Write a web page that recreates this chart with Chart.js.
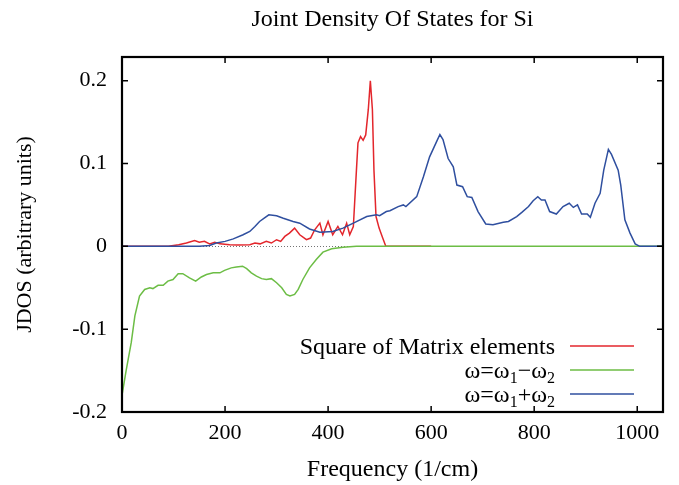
<!DOCTYPE html>
<html><head><meta charset="utf-8">
<script src="https://cdn.jsdelivr.net/npm/chart.js@4/dist/chart.umd.min.js"></script>
<style>html,body{margin:0;padding:0;background:#fff;}#wrap{width:679px;height:485px;}</style>
</head><body><div id="wrap"><canvas id="c" width="679" height="485"></canvas></div>
<script>
const titleText = 'Joint Density Of States for Si';
const xTitle = 'Frequency (1/cm)';
const yTitle = 'JDOS (arbitrary units)';
const xTickValues = [0, 200, 400, 600, 800, 1000];
const yTickValues = [-0.2, -0.1, 0, 0.1, 0.2];
const seriesLabels = ['Square of Matrix elements', 'ω=ω₁−ω₂', 'ω=ω₁+ω₂'];
const seriesColors = ['#e3262c', '#6cbd45', '#2f4f9f'];

const matrixFreq = [0, 90, 110, 125, 141, 150, 160, 170, 180, 190, 209, 225, 248, 258, 268, 280, 290, 300, 308, 316, 325, 335, 345, 358, 366, 374, 384, 390, 400, 409, 419, 428, 436, 442, 449, 455, 458, 463, 468, 473, 478, 482, 486, 489, 493, 499, 506, 512, 600];
const matrixSq = [0, 0, 0.002, 0.004, 0.007, 0.005, 0.006, 0.003, 0.005, 0.003, 0.002, 0.0015, 0.002, 0.004, 0.003, 0.006, 0.004, 0.008, 0.006, 0.012, 0.016, 0.022, 0.014, 0.008, 0.010, 0.020, 0.028, 0.014, 0.030, 0.014, 0.024, 0.014, 0.028, 0.014, 0.024, 0.092, 0.125, 0.1325, 0.128, 0.1345, 0.165, 0.200, 0.165, 0.092, 0.036, 0.022, 0.010, 0, 0];

const diffFreq = [0, 8, 18, 25, 34, 44, 54, 60, 70, 80, 89, 99, 109, 118, 131, 143, 154, 164, 177, 190, 199, 212, 222, 234, 242, 251, 261, 271, 280, 290, 300, 310, 319, 326, 335, 342, 351, 364, 377, 390, 407, 429, 455, 1050];
const diffJdos = [-0.18, -0.15, -0.116, -0.084, -0.060, -0.052, -0.050, -0.051, -0.047, -0.047, -0.042, -0.040, -0.033, -0.033, -0.038, -0.042, -0.037, -0.034, -0.032, -0.032, -0.029, -0.026, -0.025, -0.024, -0.027, -0.032, -0.036, -0.039, -0.040, -0.039, -0.044, -0.050, -0.058, -0.060, -0.058, -0.052, -0.040, -0.026, -0.016, -0.007, -0.003, -0.001, 0, 0];

const sumFreq = [0, 150, 170, 183, 200, 216, 235, 248, 258, 267, 276, 285, 300, 313, 332, 345, 364, 384, 409, 429, 449, 475, 494, 500, 513, 520, 536, 546, 551, 572, 585, 597, 611, 617, 623, 633, 643, 650, 661, 670, 679, 691, 706, 720, 740, 750, 766, 776, 789, 798, 807, 814, 821, 830, 843, 856, 868, 876, 884, 892, 903, 909, 918, 928, 935, 944, 950, 963, 968, 976, 986, 996, 1005, 1050];
const sumJdos = [0, 0, 0.001, 0.004, 0.006, 0.009, 0.014, 0.018, 0.024, 0.030, 0.034, 0.038, 0.037, 0.034, 0.030, 0.028, 0.021, 0.017, 0.018, 0.022, 0.028, 0.036, 0.038, 0.037, 0.042, 0.043, 0.048, 0.050, 0.048, 0.060, 0.084, 0.108, 0.127, 0.135, 0.129, 0.106, 0.096, 0.074, 0.072, 0.060, 0.059, 0.042, 0.027, 0.026, 0.029, 0.030, 0.036, 0.041, 0.048, 0.055, 0.060, 0.056, 0.056, 0.042, 0.039, 0.048, 0.052, 0.047, 0.050, 0.039, 0.039, 0.035, 0.052, 0.064, 0.092, 0.117, 0.111, 0.092, 0.074, 0.032, 0.016, 0.003, 0, 0];

const FONT = "'Liberation Serif', 'Times New Roman', serif";
const pts = (xs, ys) => xs.map((x, i) => ({x: x, y: ys[i]}));

const frameTicks = {
  id: 'frameTicks',
  afterDatasetsDraw(chart) {
    const {ctx, chartArea: a, scales} = chart;
    ctx.save();
    ctx.strokeStyle = '#000';
    ctx.lineWidth = 1.5;
    const L = 6;
    ctx.beginPath();
    scales.x.ticks.forEach(t => {
      const p = scales.x.getPixelForValue(t.value);
      ctx.moveTo(p, a.bottom); ctx.lineTo(p, a.bottom - L);
      ctx.moveTo(p, a.top); ctx.lineTo(p, a.top + L);
    });
    scales.y.ticks.forEach(t => {
      const p = scales.y.getPixelForValue(t.value);
      ctx.moveTo(a.left, p); ctx.lineTo(a.left + L, p);
      ctx.moveTo(a.right, p); ctx.lineTo(a.right - L, p);
    });
    ctx.stroke();
    ctx.lineWidth = 2.2;
    ctx.strokeRect(a.left, a.top, a.right - a.left, a.bottom - a.top);
    ctx.restore();
  }
};

const keyBox = {
  id: 'keyBox',
  afterDatasetsDraw(chart) {
    const {ctx, chartArea: a} = chart;
    const size = 24, sub = 16;
    const textRight = a.right - 108;
    const lineX0 = a.right - 93, lineX1 = a.right - 29;
    const rowY = [a.bottom - 66, a.bottom - 42, a.bottom - 18];
    const subMap = {'₁': '1', '₂': '2'};
    ctx.save();
    ctx.textBaseline = 'alphabetic';
    ctx.fillStyle = '#000';
    chart.data.datasets.forEach((ds, i) => {
      const parts = [];
      for (const ch of ds.label) {
        const isSub = ch in subMap;
        const c = isSub ? subMap[ch] : ch;
        const last = parts[parts.length - 1];
        if (last && last.sub === isSub) last.t += c; else parts.push({t: c, sub: isSub});
      }
      let w = 0;
      parts.forEach(p => { ctx.font = (p.sub ? sub : size) + 'px ' + FONT; p.w = ctx.measureText(p.t).width; w += p.w; });
      let x = textRight - w;
      const base = rowY[i] + 8;
      parts.forEach(p => {
        ctx.font = (p.sub ? sub : size) + 'px ' + FONT;
        ctx.fillText(p.t, x, base + (p.sub ? 5 : 0));
        x += p.w;
      });
      ctx.strokeStyle = ds.borderColor;
      ctx.lineWidth = 1.5;
      ctx.beginPath(); ctx.moveTo(lineX0, rowY[i]); ctx.lineTo(lineX1, rowY[i]); ctx.stroke();
    });
    ctx.restore();
  }
};

const mk = (label, data, color, order) => ({
  label: label, data: data, borderColor: color, backgroundColor: color,
  borderWidth: 1.5, pointRadius: 0, tension: 0, fill: false, order: order
});

new Chart(document.getElementById('c'), {
  type: 'line',
  data: {
    datasets: [
      mk(seriesLabels[0], pts(matrixFreq, matrixSq), seriesColors[0], 3),
      mk(seriesLabels[1], pts(diffFreq, diffJdos), seriesColors[1], 2),
      mk(seriesLabels[2], pts(sumFreq, sumJdos), seriesColors[2], 1)
    ]
  },
  options: {
    responsive: false, animation: false, devicePixelRatio: 1,
    layout: {padding: {left: 0, right: 16, top: 0, bottom: 0}},
    plugins: {
      legend: {display: false},
      tooltip: {enabled: false},
      title: {display: true, fullSize: false, text: titleText, color: '#000',
        font: {family: FONT, size: 24, weight: 'normal'}, padding: {top: 5, bottom: 23.2}}
    },
    scales: {
      x: {
        type: 'linear', min: 0, max: 1050,
        afterBuildTicks: s => { s.ticks = xTickValues.map(v => ({value: v})); },
        afterFit: s => { s.height = 73; },
        grid: {display: false, drawTicks: false},
        border: {display: false},
        ticks: {color: '#000', font: {family: FONT, size: 22}, padding: 8, autoSkip: false, maxRotation: 0,
          callback: v => String(v)},
        title: {display: true, text: xTitle, color: '#000', font: {family: FONT, size: 24}, padding: {top: 0, bottom: 1}}
      },
      y: {
        type: 'linear', min: -0.2, max: 0.2286,
        afterBuildTicks: s => { s.ticks = yTickValues.map(v => ({value: v})); },
        afterFit: s => { s.width = 122; },
        grid: {display: true, drawTicks: false, drawOnChartArea: true, lineWidth: 1,
          color: c => (c.tick && c.tick.value === 0) ? 'rgba(0,0,0,0.55)' : 'rgba(0,0,0,0)'},
        border: {display: false, dash: [1, 2]},
        ticks: {color: '#000', font: {family: FONT, size: 22}, padding: 15,
          callback: v => (v === 0 ? '0' : String(Math.round(v * 10) / 10))},
        title: {display: true, text: yTitle, color: '#000', font: {family: FONT, size: 22}, padding: {top: 12, bottom: 0}}
      }
    }
  },
  plugins: [frameTicks, keyBox]
});
</script>
</body></html>
